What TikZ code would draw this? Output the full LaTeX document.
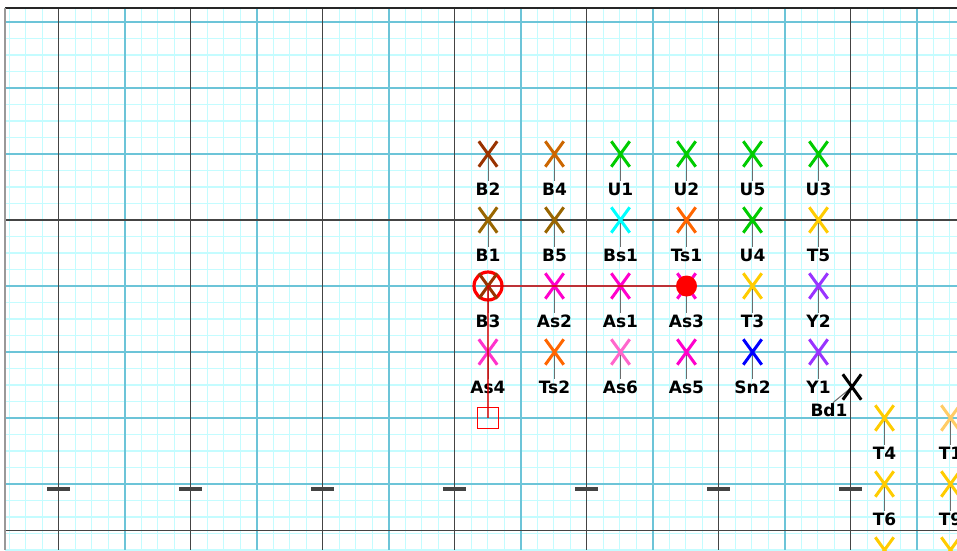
\documentclass[tikz,border=0pt]{standalone}
\usepackage{fontspec}
\usetikzlibrary{calc}
\newfontfamily\labfont{DejaVu Sans}
\pgfdeclarelayer{bg}
\pgfdeclarelayer{stemlayer}
\pgfsetlayers{bg,stemlayer,main}
\definecolor{cBtwo}{HTML}{993300}
\definecolor{cBfour}{HTML}{CC6600}
\definecolor{cBone}{HTML}{996600}
\definecolor{cU}{HTML}{00CC00}
\definecolor{cBs}{HTML}{00FFFF}
\definecolor{cTs}{HTML}{FF6600}
\definecolor{cT}{HTML}{FFCC00}
\definecolor{cAs}{HTML}{FF00CC}
\definecolor{cAsfour}{HTML}{FF33CC}
\definecolor{cAssix}{HTML}{FF66CC}
\definecolor{cY}{HTML}{9933FF}
\definecolor{cSn}{HTML}{0000FF}
\definecolor{cTone}{HTML}{FFCC66}
\definecolor{gminor}{HTML}{C4FCFF}
\definecolor{gcyan}{HTML}{6CC4D8}
\definecolor{gdark}{HTML}{444444}
\tikzset{
  xm/.style={inner sep=0pt, minimum width=18pt, minimum height=25pt},
  xline/.style={draw=#1, line width=3pt, line cap=butt},
  lab/.style={font=\labfont\bfseries\fontsize{17pt}{19pt}\selectfont, inner sep=1.5pt,
    text height=12.4pt, text depth=0pt},
  stem/.style={draw=gray!85!black, line width=1pt},
  minorl/.style={draw=gminor, line width=1.1pt},
  cyanl/.style={draw=gcyan, line width=2pt},
  darkl/.style={draw=gdark, line width=1.5pt},
  ringst/.style={circle, draw=red, line width=3.2pt, minimum size=28pt, inner sep=0pt},
  dotst/.style={circle, fill=red, minimum size=21pt, inner sep=0pt},
  sqst/.style={rectangle, draw=red, line width=1.3pt, minimum size=21pt, inner sep=0pt},
  redline/.style={draw=red!85!black, opacity=0.75, line width=1.5pt}
}
\newcommand\xmark[4]{% name, x, y, colour
  \node[xm] (#1) at (#2,#3) {};
  \draw[xline=#4] (#1.north west) -- (#1.south east) (#1.north east) -- (#1.south west);
}
\newcommand\mkx[4]{%
  \xmark{#1}{#2}{#3}{#4}
  \node[lab] (#1l) at (#2,#3+35) {#1};
  \begin{pgfonlayer}{stemlayer}\draw[stem] (#1.center) -- (#1l.north);\end{pgfonlayer}
}
\begin{document}
\begin{tikzpicture}[x=1pt,y=-1pt]
\useasboundingbox (0,0) rectangle (957,550);
\clip (0,0) rectangle (957,550);
\begin{pgfonlayer}{bg}
  \fill[white] (0,0) rectangle (957,550);
  \begin{scope}
    \clip (5,8) rectangle (957,550);
    \foreach \i in {-3,...,55} \draw[minorl] ({58.7+16.5*\i},0) -- ++(0,550);
    \foreach \j in {-1,...,33} \draw[minorl] (0,{22+16.5*\j}) -- ++(957,0);
    \foreach \i in {0,...,6} \draw[cyanl] ({124.7+132*\i},0) -- ++(0,550);
    \foreach \y in {22,88,154,286,352,418,484} \draw[cyanl] (0,\y) -- ++(957,0);
    \foreach \i in {0,...,6} \draw[darkl] ({58.7+132*\i},0) -- ++(0,550);
    \draw[darkl] (0,220) -- ++(957,0);
    \draw[darkl] (0,530.5) -- ++(957,0);
    \foreach \i in {0,...,6} \fill[gdark] ({58.7+132*\i-11.5},487.3) rectangle ++(23,3.4);
  \end{scope}
  \draw[draw=black!85, line width=1.5pt] (5,8) -- (957,8);
  \draw[draw=gray!80, line width=2pt] (5,8) -- (5,550);
\end{pgfonlayer}
% row 1
\mkx{B2}{488}{154}{cBtwo}
\mkx{B4}{554.5}{154}{cBfour}
\mkx{U1}{620.5}{154}{cU}
\mkx{U2}{686.5}{154}{cU}
\mkx{U5}{752.5}{154}{cU}
\mkx{U3}{818.5}{154}{cU}
% row 2
\mkx{B1}{488}{220}{cBone}
\mkx{B5}{554.5}{220}{cBone}
\mkx{Bs1}{620.5}{220}{cBs}
\mkx{Ts1}{686.5}{220}{cTs}
\mkx{U4}{752.5}{220}{cU}
\mkx{T5}{818.5}{220}{cT}
% row 3
\mkx{B3}{488}{286}{cBtwo}
\mkx{As2}{554.5}{286}{cAs}
\mkx{As1}{620.5}{286}{cAs}
\mkx{As3}{686.5}{286}{cAs}
\mkx{T3}{752.5}{286}{cT}
\mkx{Y2}{818.5}{286}{cY}
% row 4
\mkx{As4}{488}{352}{cAsfour}
\mkx{Ts2}{554.5}{352}{cTs}
\mkx{As6}{620.5}{352}{cAssix}
\mkx{As5}{686.5}{352}{cAs}
\mkx{Sn2}{752.5}{352}{cSn}
\mkx{Y1}{818.5}{352}{cY}
% right group
\xmark{Bd1}{852}{387}{black}
\node[lab] (Bd1l) at (829,410.5) {Bd1};
\begin{pgfonlayer}{stemlayer}\draw[stem] (Bd1.center) -- ($(Bd1l.north)+(4,0)$);\end{pgfonlayer}
\mkx{T4}{884.5}{418}{cT}
\mkx{T1}{950.5}{418}{cTone}
\mkx{T6}{884.5}{484}{cT}
\mkx{T9}{950.5}{484}{cT}
\xmark{Tx1}{884.5}{550}{cT}
\xmark{Tx2}{950.5}{550}{cT}
% red annotations
\begin{pgfonlayer}{stemlayer}
  \node[ringst] (ring) at (B3) {};
\end{pgfonlayer}
\node[sqst] (sq) at (488,418) {};
\node[dotst] (dot) at (As3) {};
\draw[redline] (ring.center) -- (dot.west);
\draw[redline] (ring.center) -- (sq.center);
\end{tikzpicture}
\end{document}
